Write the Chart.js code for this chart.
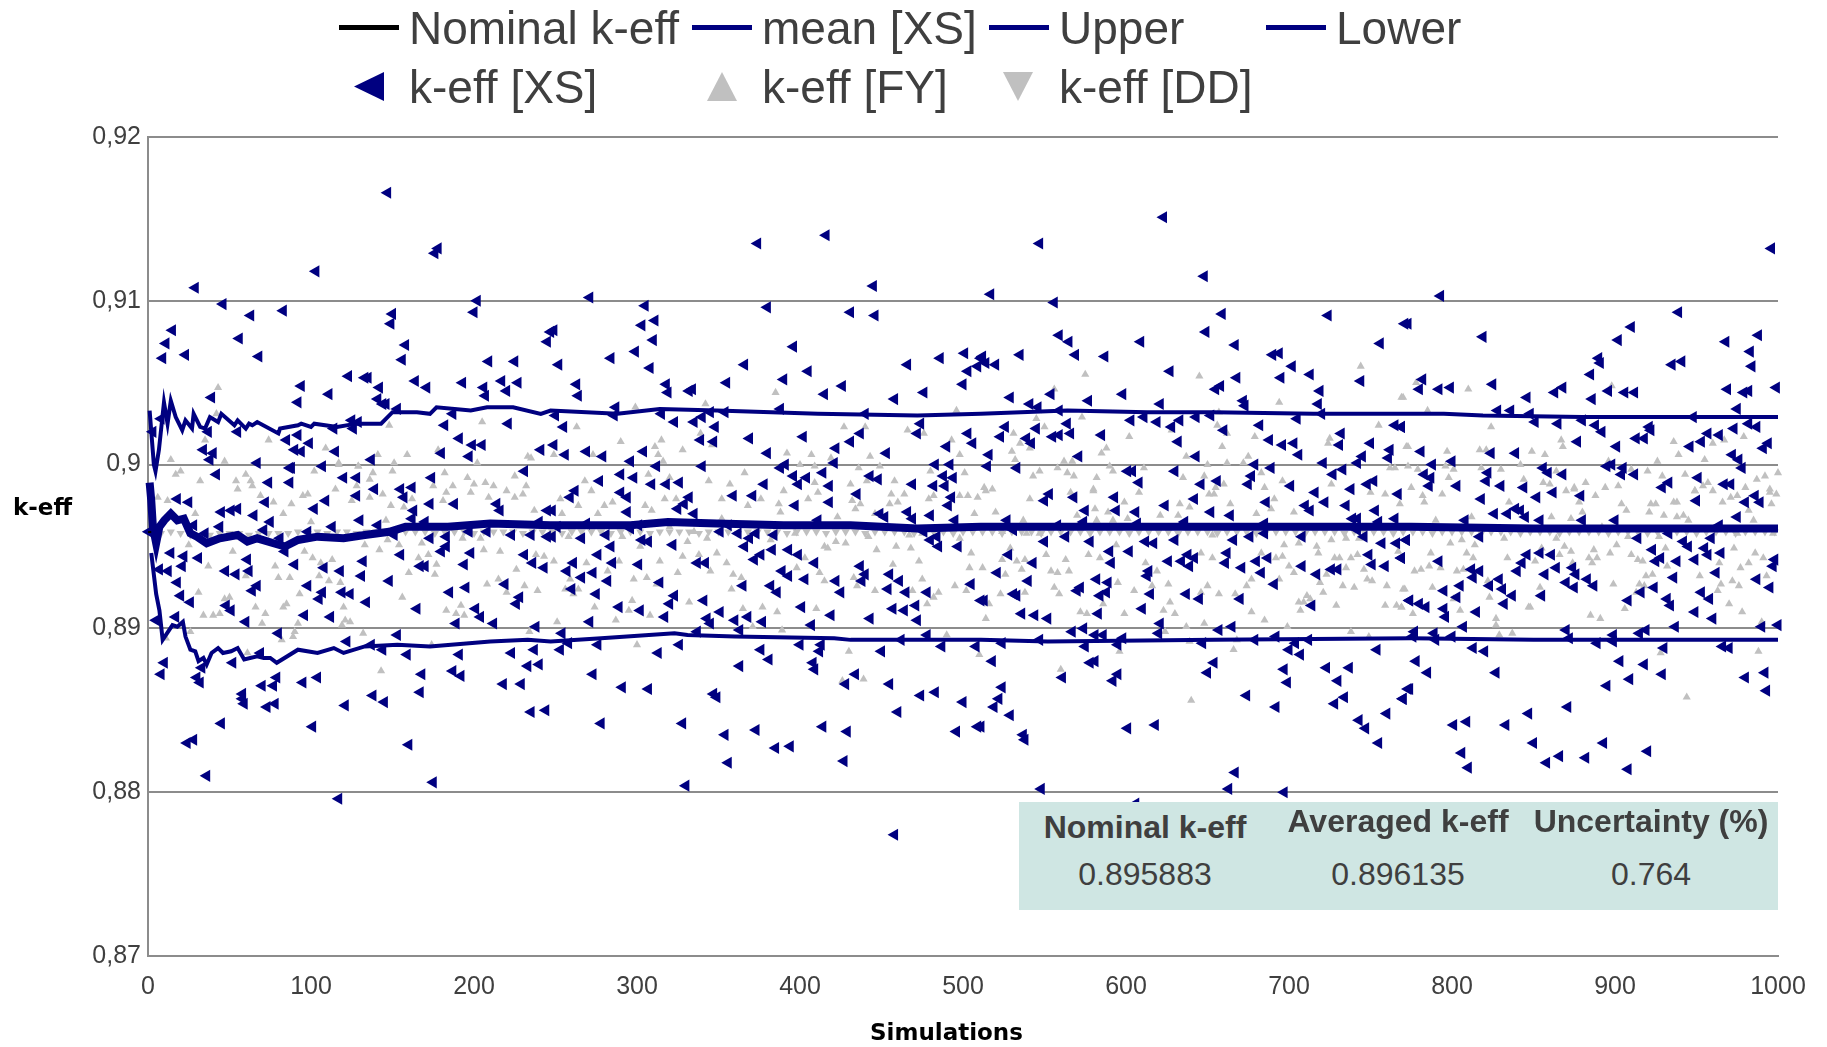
<!DOCTYPE html>
<html>
<head>
<meta charset="utf-8">
<title>k-eff</title>
<script src="https://cdn.jsdelivr.net/npm/chart.js@4/dist/chart.umd.min.js"></script>
<style>
  body { margin: 0; background: #fff; overflow: hidden; font-family: "Liberation Sans", sans-serif; color: #3f3f3f; }
  #wrap { position: relative; width: 1827px; height: 1047px; }
  #wrap div { position: absolute; white-space: nowrap; }
  .lg { font-size: 46px; line-height: 54px; }
  .key { height: 5px; width: 60px; background: #000080; }
  .mk { width: 30px; height: 29px; }
  .title { font: bold 23px "DejaVu Sans"; color: #000; }
  #box { left: 1019px; top: 802px; width: 759px; height: 108px; background: #cfe6e3; }
  .cell { font-size: 32px; line-height: 40px; transform: translateX(-50%); }
  .cell.head { font-weight: bold; }
</style>
</head>
<body>
<div id="wrap">
  <canvas id="chart" width="1827" height="1047"></canvas>

  <div class="key" style="left:339px;top:25px;background:#000"></div>
  <div class="lg" style="left:409px;top:1px">Nominal k-eff</div>
  <div class="key" style="left:692px;top:25px"></div>
  <div class="lg" style="left:762px;top:1px">mean [XS]</div>
  <div class="key" style="left:989px;top:25px"></div>
  <div class="lg" style="left:1059px;top:1px">Upper</div>
  <div class="key" style="left:1266px;top:25px"></div>
  <div class="lg" style="left:1336px;top:1px">Lower</div>

  <div class="mk" style="left:354px;top:72px;background:#000080;clip-path:polygon(0 50%,100% 0,100% 100%)"></div>
  <div class="lg" style="left:409px;top:60px">k-eff [XS]</div>
  <div class="mk" style="left:707px;top:72px;background:#c0c0c0;clip-path:polygon(50% 0,100% 100%,0 100%)"></div>
  <div class="lg" style="left:762px;top:60px">k-eff [FY]</div>
  <div class="mk" style="left:1003px;top:72px;background:#c0c0c0;clip-path:polygon(0 0,100% 0,50% 100%)"></div>
  <div class="lg" style="left:1059px;top:60px">k-eff [DD]</div>

  <div class="title" style="left:13px;top:494px">k-eff</div>
  <div class="title" style="left:870px;top:1019px">Simulations</div>

  <div id="box"></div>
  <div class="cell head" style="left:1145px;top:807px">Nominal k-eff</div>
  <div class="cell head" style="left:1398px;top:801px">Averaged k-eff</div>
  <div class="cell head" style="left:1651px;top:801px">Uncertainty (%)</div>
  <div class="cell" style="left:1145px;top:854px">0.895883</div>
  <div class="cell" style="left:1398px;top:854px">0.896135</div>
  <div class="cell" style="left:1651px;top:854px">0.764</div>
</div>

<script>
/* ====== Data (simulation, k-eff) ====== */
const xTickLabels = ["0","100","200","300","400","500","600","700","800","900","1000"];
const yTickLabels = ["0,87","0,88","0,89","0,9","0,91","0,92"];

const nominalLine = [[0,.895883],[2,.895883]];

const meanLine = [[1,.8989],[2,.8978],[3,.8962],[5,.8952],[7,.8962],[10,.8966],[14,.8970],[18,.8966],[22,.8967],[26,.8958],[30,.8956],[36,.8952],[44,.8955],[55,.8957],[61,.8953],[67,.8955],[77,.8952],[84,.8950],[92,.8954],[104,.8956],[120,.8955],[133,.8957],[148,.8959],[158,.8962],[184,.8962],[210,.8964],[247,.8963],[267,.8963],[296,.8963],[319,.8965],[349,.8964],[390,.8963],[431,.8963],[472,.8961],[511,.8962],[560,.8962],[634,.8962],[700,.8962],[775,.8962],[850,.8961],[930,.8961],[1000,.8961]];

const upperLine = [[1,.9033],[3.6,.9000],[4.6,.8996],[6.7,.9009],[9.8,.9038],[12,.9025],[14,.9039],[17,.9029],[21,.9021],[23,.9027],[27,.9022],[28,.9031],[32,.9023],[35,.9022],[38,.9029],[43,.9026],[45,.9031],[53,.9024],[55,.9027],[60,.9022],[62,.9025],[64,.9024],[67,.9026],[80,.9019],[81,.9022],[92,.9024],[94,.9025],[100,.9023],[102,.9025],[116,.9023],[128,.9025],[143,.9025],[150,.9032],[165,.9032],[173,.9031],[177,.9035],[198,.9033],[208,.9035],[224,.9035],[241,.9031],[247,.9033],[288,.9031],[314,.9034],[349,.9033],[411,.9031],[472,.9030],[511,.9031],[564,.9033],[613,.9032],[654,.9032],[715,.9031],[775,.9031],[795,.9031],[819,.9030],[880,.9029],[948,.9029],[972,.9029],[1000,.9029]];

const lowerLine = [[2,.8946],[5,.8921],[7,.8911],[9,.8893],[15,.8902],[18,.8901],[21.4,.8904],[23,.8895],[26,.8887],[29,.8886],[31,.8880],[34,.8882],[36,.8878],[39,.8885],[43,.8888],[46,.8885],[51,.8886],[55,.8888],[59,.8881],[67,.8883],[71,.8882],[75,.8882],[79,.8879],[92,.8887],[104,.8885],[114,.8888],[120,.8885],[133,.8889],[153,.8890],[173,.8889],[210,.8892],[233,.8893],[247,.8892],[278,.8894],[323,.8897],[331,.8896],[360,.8895],[421,.8894],[431,.8893],[472,.8893],[511,.8893],[552,.8892],[654,.8893],[775,.8894],[850,.8893],[1000,.8893]];

const xsPoints = [[147,.9166],[178,.9132],[176,.9129],[103,.9118],[29,.9108],[46,.9098],[63,.9091],[83,.9094],[15,.9082],[11,.9074],[9,.9065],[23,.9067],[56,.9077],[68,.9066],[150,.9092],[149,.9086],[158,.9073],[156,.9064],[202,.9100],[200,.9093],[209,.9063],[225,.9063],[245,.9075],[247,.9081],[94,.9048],[92,.9038],[111,.9043],[123,.9054],[133,.9053],[135,.9053],[142,.9047],[141,.9040],[146,.9037],[144,.9037],[153,.9034],[164,.9051],[171,.9047],[193,.9050],[206,.9047],[207,.9042],[217,.9051],[227,.9050],[220,.9045],[39,.9041],[187,.9031],[182,.9024],[221,.9025],[191,.9016],[199,.9012],[205,.9012],[197,.9005],[180,.9007],[241,.9009],[3,.9020],[8,.9028],[37,.9020],[55,.9020],[85,.9015],[92,.9018],[99,.9013],[90,.9009],[94,.9008],[115,.9008],[114,.9022],[125,.9027],[129,.9026],[126,.9022],[34,.9009],[40,.9007],[38,.9003],[67,.9001],[137,.9003],[107,.8999],[87,.8998],
[88,.8998],[42,.8994],[120,.8992],[128,.8992],[174,.8992],[231,.8996],[74,.8989],[87,.8989],[18,.8979],[25,.8977],[72,.8977],[128,.8981],[139,.8985],[155,.8985],[162,.8986],[157,.8980],[173,.8976],[188,.8976],[214,.8976],[216,.8972],[109,.8978],[102,.8973],[45,.8971],[51,.8972],[55,.8973],[65,.8969],[75,.8965],[71,.8960],[130,.8966],[141,.8963],[163,.8972],[162,.8967],[170,.8965],[113,.8962],[28,.8963],[44,.8962],[35,.8958],[.5,.8959],[98,.8959],[81,.8955],[84,.8947],[151,.8957],[197,.8959],[208,.8959],[223,.8957],[235,.8957],[240,.8965],[245,.8972],[245,.8956],[173,.8955],[183,.8956],[14,.8946],[22,.8944],[31,.8943],[61,.8942],[90,.8939],[132,.8941],[155,.8945],[180,.8947],[183,.8950],[198,.8946],[231,.8945],[236,.8940],[243,.8937],[7,.8936],[12.4,.8935],[21,.8938],[47.6,.8935],[54,.8933],[62,.8935],[108,.8937],[118,.8935],[131,.8932],[167,.8938],[170,.8938],[194,.8939],[18,.8928],[148,.8929],[98,.8926],[67,.8926],[64,.8923],[107,.8922],[105,.8918],[119,.8922],[124,.8921],[134,.8916],[219,.8927],[185,.8922],[195,.8925],[228,.8919],[226,.8915],[20,.8920],[26,.8916],[48,.8914],[51,.8911],[165,.8912],[201,.8912],[204,.8907],[212,.8903],[96,.8908],[112,.8907],[17,.8907],[5,.8905],[60,.8904],[189,.8903],[238,.8901],[80,.8897],[122,.8892],[153,.8896],[137,.8890],[144,.8887],[159,.8884],[191,.8884],[223,.8885],[237,.8887],[69,.8885],[10,.8879],[8,.8872],[52,.8879],[33,.8876],[30,.8870],[32,.8867],[79,.8870],[104,.8870],[95,.8867],[70,.8865],[77,.8865],[168,.8872],[187,.8874],[192,.8871],[233,.8877],[240,.8878],[218,.8866],[229,.8866],[167,.8861],[138,.8859],[145,.8855],[121,.8853],[58,.8860],[58,.8857],[59,.8854],[73,.8852],[78,.8854],[235,.8849],[244,.8850],[45,.8842],[101,.8840],[160,.8829],[24,.8830],[28,.8832],[36,.8810],[175,.8806],[117,.8796],
[374,.9135],[416,.9140],[445,.9109],[271,.9102],[305,.9097],[380,.9096],[431,.9093],[446,.9091],[311,.9088],[303,.9085],[249,.9082],[310,.9076],[396,.9072],[284,.9065],[299,.9069],[252,.9061],[308,.9059],[366,.9061],[466,.9061],[486,.9065],[501,.9068],[511,.9065],[503,.9057],[509,.9060],[405,.9057],[390,.9052],[355,.9050],[263,.9049],[264,.9042],[318,.9049],[319,.9044],[332,.9045],[334,.9046],[426,.9048],[415,.9043],[500,.9049],[476,.9044],[458,.9040],[287,.9035],[388,.9034],[286,.9030],[250,.9030],[315,.9031],[345,.9032],[354,.9032],[440,.9031],[474,.9025],[255,.9023],[323,.9026],[340,.9029],[335,.9026],[348,.9023],[472,.9019],[437,.9019],[431,.9014],[422,.9010],[369,.9016],[402,.9017],[339,.9015],[347,.9014],[503,.9019],[506,.9013],[490,.9011],[249,.9012],[256,.9006],[269,.9008],[279,.9005],[304,.9008],[380,.9007],[453,.9007],[483,.9000],[492,.9000],[421,.9001],[340,.8999],[296,.9002],[312,.8999],[391,.9000],[388,.8998],[290,.8994],[298,.8992],[396,.8993],[404,.8992],[414,.8995],[443,.8993],[448,.8991],[277,.8990],[309,.8988],[318,.8988],[326,.8989],[378,.8988],[399,.8988],[418,.8987],[469,.8988],[482,.8987],[488,.8993],[494,.8992],[489,.8987],
[262,.8984],[259,.8980],[290,.8983],[294,.8980],[359,.8981],[371,.8981],[332,.8980],[329,.8976],[325,.8973],[294,.8971],[335,.8970],[397,.8975],[418,.8977],[435,.8982],[493,.8980],[491,.8975],[480,.8969],[449,.8970],[452,.8968],[466,.8971],[469,.8967],[495,.8966],[411,.8966],[248,.8972],[269,.8964],[301,.8963],[351,.8959],[356,.8963],[362,.8958],[296,.8961],[251,.8962],[281,.8957],[248,.8956],[266,.8955],[303,.8954],[307,.8953],[284,.8950],[322,.8951],[369,.8955],[373,.8958],[384,.8957],[366,.8950],[383,.8948],[393,.8948],[399,.8945],[376,.8945],[372,.8942],[409,.8940],[276,.8945],[261,.8940],[285,.8940],[301,.8939],[337,.8940],[342,.8940],[257,.8935],[273,.8934],[266,.8931],[282,.8929],[314,.8928],[389,.8935],[393,.8932],[403,.8930],[365,.8926],[382,.8926],[386,.8922],[422,.8929],[260,.8924],[275,.8921],[323,.8920],[320,.8915],[341,.8917],[289,.8913],[302,.8911],[401,.8913],[317,.8907],[351,.8910],[343,.8906],[345,.8903],[360,.8905],[368,.8907],[377,.8904],[419,.8908],[443,.8906],[271,.8904],[407,.8902],[254,.8897],[337,.8898],[363,.8899],[258,.8891],[253,.8887],[276,.8890],[326,.8890],[313,.8885],[376,.8887],[400,.8890],[413,.8890],[412,.8886],[381,.8881],[408,.8879],[409,.8875],[363,.8877],[273,.8872],[434,.8872],[428,.8866],[455,.8866],[291,.8864],[307,.8863],[347,.8860],[349,.8858],[474,.8859],[483,.8861],[500,.8855],[460,.8849],[278,.8842],[328,.8842],[354,.8835],[373,.8838],[414,.8840],[429,.8837],[496,.8837],[509,.8840],[385,.8827],[394,.8828],[356,.8818],[427,.8819],[330,.8804],[458,.8774],[450,.8886],[487,.8889],[508,.8889],[462,.8893],[478,.8896],[437,.8938],[440,.8933],[438,.8929],[455,.8933],[461,.8929],[454,.8924],[465,.8922],[478,.8922],[505,.8927],[425,.8922],[457,.8912],[464,.8911],[471,.8914],[472,.8905],[511,.8917],[480,.8954],[485,.8950],[497,.8950],[476,.8959],[484,.8956],
[623,.9151],[547,.9135],[648,.9115],[517,.9104],[556,.9099],[659,.9092],[724,.9091],[773,.9086],[649,.9081],[559,.9079],[565,.9075],[609,.9075],[667,.9073],[756,.9074],[535,.9067],[569,.9067],[587,.9066],[690,.9067],[694,.9068],[512,.9066],[514,.9062],[520,.9061],[627,.9057],[702,.9060],[713,.9055],[668,.9053],[695,.9053],[744,.9051],[658,.9048],[655,.9046],[719,.9045],[598,.9043],[554,.9043],[529,.9041],[577,.9039],[541,.9037],[546,.9035],[621,.9037],[672,.9039],[673,.9036],[718,.9037],[559,.9033],[611,.9029],[652,.9030],[720,.9031],[603,.9027],[619,.9026],[633,.9027],[643,.9029],[705,.9028],[564,.9025],[526,.9023],[545,.9022],[682,.9024],[628,.9023],[660,.9021],[765,.9024],[769,.9023],[732,.9019],[523,.9017],[559,.9018],[555,.9017],[566,.9019],[585,.9018],[539,.9016],[542,.9013],[632,.9014],[688,.9015],[696,.9012],[703,.9013],[731,.9012],[750,.9013],[516,.9006],[571,.9005],[643,.9005],[706,.9006],[762,.9009],[745,.9005],[761,.9004],[515,.8999],[533,.8998],[679,.9000],[689,.8998],[721,.9001],[742,.9001],[601,.8996],[604,.8996],[630,.8996],[727,.8994],[733,.8997],[677,.8993],[608,.8989],[656,.8990],[646,.8988],[675,.8988],[701,.8987],[748,.8988],[752,.8990],
[553,.8982],[550,.8978],[568,.8980],[593,.8980],[575,.8972],[594,.8972],[606,.8971],[624,.8975],[642,.8979],[652,.8971],[664,.8969],[686,.8977],[710,.8975],[713,.8972],[722,.8977],[716,.8983],[738,.8985],[735,.8975],[767,.8982],[753,.8972],[527,.8966],[531,.8960],[558,.8963],[574,.8965],[607,.8964],[636,.8965],[685,.8964],[739,.8967],[742,.8967],[755,.8965],[765,.8967],[550,.8953],[563,.8956],[578,.8953],[612,.8953],[617,.8952],[630,.8954],[666,.8954],[676,.8956],[685,.8958],[708,.8956],[746,.8956],[742,.8960],[757,.8952],[766,.8952],[772,.8954],[528,.8945],[590,.8947],[602,.8947],[662,.8946],[543,.8940],[591,.8940],[626,.8941],[634,.8941],[638,.8945],[642,.8943],[639,.8938],[661,.8940],[680,.8941],[687,.8943],[671,.8937],[708,.8938],[749,.8945],[751,.8939],[759,.8938],[769,.8943],[726,.8936],[730,.8936],[717,.8933],[521,.8934],[683,.8934],[614,.8935],[613,.8932],[540,.8929],[582,.8930],[589,.8928],[691,.8927],[572,.8925],[570,.8923],[588,.8922],[584,.8920],[615,.8921],[637,.8921],[645,.8918],[670,.8918],[531,.8921],[533,.8920],[513,.8917],[714,.8914],[774,.8917],[610,.8912],[536,.8909],[544,.8908],[552,.8906],[583,.8909],[621,.8903],[567,.8898],[574,.8900],[657,.8899],[665,.8901],[581,.8896],[586,.8896],[598,.8894],[620,.8897],[692,.8895],[712,.8893],[679,.8893],[547,.8893],[524,.8891],[595,.8890],[647,.8891],[704,.8891],[575,.8889],[700,.8887],[707,.8884],[754,.8887],[518,.8880],[581,.8880],[578,.8879],[654,.8879],[650,.8873],[697,.8875],[723,.8876],[737,.8876],[561,.8870],[595,.8872],[592,.8868],[699,.8867],[730,.8868],[524,.8864],[522,.8857],[519,.8852],[734,.8858],[728,.8854],[770,.8857],[774,.8863],[674,.8859],[692,.8852],[529,.8847],[760,.8848],[743,.8844],[747,.8839],[511,.8840],[601,.8839],[618,.8841],[537,.8835],[538,.8832],[755,.8830],[667,.8812],[663,.8802],[548,.8802],[697,.8800],[606,.8793],
[996,.9132],[793,.9103],[939,.9093],[771,.9086],[819,.9078],[910,.9084],[902,.9076],[968,.9075],[988,.9079],[983,.9069],[984,.9060],[890,.9065],[891,.9062],[935,.9061],[941,.9063],[885,.9055],[782,.9052],[780,.9046],[792,.9046],[799,.9047],[825,.9049],[863,.9044],[868,.9047],[886,.9040],[896,.9045],[906,.9044],[912,.9044],[969,.9046],[979,.9044],[982,.9045],[999,.9047],[846,.9041],[828,.9033],[836,.9033],[848,.9031],[975,.9034],[948,.9029],[769,.9023],[851,.9026],[865,.9025],[880,.9027],[888,.9024],[892,.9020],[921,.9023],[922,.9021],[973,.9022],[982,.9025],[987,.9023],[957,.9019],[964,.9018],[877,.9014],[913,.9016],[918,.9016],[953,.9014],[946,.9011],[901,.9011],[994,.9013],[991,.9010],[781,.9008],[824,.9007],[839,.9007],[972,.9006],[800,.9002],[788,.9000],[856,.8998],[859,.8995],[868,.8994],[783,.8994],[787,.8992],[822,.8995],[821,.8990],[895,.8999],[898,.9000],[905,.8998],[904,.8994],[912,.8994],[976,.9003],[978,.8998],[951,.8992],[933,.8989],[929,.8986],[967,.8988],[971,.8988],[786,.8987],[803,.8987],[830,.8987],[844,.8986],
[818,.8979],[852,.8980],[862,.8983],[879,.8981],[950,.8978],[980,.8977],[989,.8977],[986,.8981],[975,.8968],[826,.8970],[834,.8970],[839,.8973],[842,.8972],[845,.8968],[808,.8966],[854,.8966],[880,.8966],[900,.8966],[964,.8963],[817,.8956],[914,.8955],[933,.8958],[959,.8955],[772,.8954],[942,.8953],[945,.8950],[955,.8949],[923,.8948],[846,.8945],[854,.8946],[861,.8945],[965,.8946],[792,.8941],[928,.8943],[925,.8941],[938,.8941],[949,.8942],[957,.8945],[998,.8942],[997,.8938],[769,.8943],[843,.8940],[864,.8937],[874,.8937],[812,.8936],[817,.8935],[840,.8935],[857,.8933],[813,.8931],[876,.8933],[883,.8930],[936,.8931],[962,.8934],[829,.8930],[870,.8928],[875,.8925],[887,.8926],[987,.8930],[995,.8925],[805,.8926],[823,.8926],[831,.8924],[795,.8923],[924,.8925],[953,.8922],[855,.8920],[803,.8919],[837,.8920],[916,.8922],[908,.8917],[958,.8918],[774,.8917],[780,.8915],[784,.8913],[832,.8915],[932,.8918],[934,.8914],[795,.8912],[796,.8907],[815,.8910],[949,.8910],[960,.8906],[807,.8901],[937,.8901],[990,.8901],[1000,.8902],[777,.8898],[789,.8897],[870,.8899],[899,.8896],[919,.8899],[915,.8897],[800,.8895],[776,.8895],[790,.8893],[872,.8894],[889,.8891],[899,.8892],[813,.8888],[820,.8886],[930,.8888],[966,.8889],[970,.8888],[778,.8880],[903,.8880],[918,.8878],[785,.8873],[827,.8873],[929,.8872],[909,.8869],[980,.8870],[992,.8873],[895,.8865],[993,.8862],[773,.8863],[770,.8857],[871,.8852],[847,.8848],[809,.8843],[801,.8841],[833,.8841],[850,.8830],[893,.8830],[920,.8825],[806,.8824],[866,.8822],[858,.8818],[882,.8821],[810,.8815],[908,.8814]];

const fyPoints = [[43,.9047],[42,.9031],[35,.9015],[14,.9003],[47,.9002],[74,.9015],[109,.9010],[117,.9001],[129,.8999],[151,.9001],[148,.9024],[159,.9006],[178,.9009],[205,.9026],[202,.9001],[233,.9005],[141,.9006],[235,.9004],
[17,.8994],[20,.8996],[32,.8990],[6,.8980],[12,.8978],[29,.8970],[54,.8990],[60,.8994],[63,.8990],[55,.8985],[64,.8987],[69,.8981],[77,.8977],[88,.8976],[83,.8970],[100,.8965],[95,.8981],[98,.8982],[102,.8996],[117,.9000],[129,.8999],[138,.8995],[150,.8996],[136,.8991],[128,.8987],[115,.8985],[125,.8978],[136,.8980],[144,.8982],[149,.8975],[162,.8979],[157,.8974],[146,.8966],[182,.8995],[175,.8987],[183,.8983],[187,.8987],[181,.8978],[196,.8992],[200,.8988],[207,.8989],[212,.8987],[198,.8983],[209,.8980],[220,.8984],[225,.8980],[225,.8993],[232,.8987],[230,.8982],[237,.8972],[52,.8947],[25,.8951],[37,.8938],[78,.8938],[96,.8947],[101,.8943],[106,.8940],[113,.8942],[133,.8951],[142,.8948],[147,.8954],[154,.8951],[168,.8952],[166,.8943],[172,.8945],[177,.8939],[193,.8955],[204,.8955],[206,.8948],[216,.8947],[160,.8934],[176,.8933],[226,.8936],[238,.8945],[243,.8944],[60,.8932],[80,.8931],[87,.8931],[105,.8932],[111,.8929],[118,.8928],[215,.8930],[231,.8926],[208,.8927],[31,.8922],[93,.8921],[156,.8919],[220,.8922],[239,.8923],[47,.8918],[50,.8919],[66,.8913],[85,.8915],[83,.8913],[120,.8913],[192,.8914],[183,.8911],[189,.8909],[194,.8908],[72,.8909],[34,.8908],[40,.8908],[44,.8909],[121,.8905],[124,.8904],[70,.8903],[92,.8903],[119,.8902],[90,.8898],[26,.8898],[11,.8894],[82,.8893],[89,.8895],[132,.8897],[234,.8898],[61,.8885],[143,.8874],[174,.8890],
[299,.9035],[342,.9037],[385,.9044],[427,.9023],[440,.9023],[496,.9033],[466,.9021],[476,.9019],[263,.9023],[290,.9014],[315,.9015],[311,.9011],[313,.9006],[328,.9009],[346,.9012],[339,.9019],[249,.9006],[273,.9006],[316,.9002],[392,.9007],[407,.9006],[419,.9004],[443,.9005],[493,.9015],[498,.9006],[400,.9000],[409,.8999],[436,.8998],[449,.8999],[366,.8995],[307,.8994],[320,.8992],[480,.8996],[501,.8995],[268,.8990],[344,.8990],[357,.8988],[409,.8989],[431,.8988],[441,.8990],[458,.8990],
[272,.8984],[253,.8979],[264,.8975],[254,.8970],[276,.8970],[280,.8975],[285,.8977],[305,.8975],[309,.8972],[317,.8979],[324,.8979],[352,.8979],[368,.8975],[376,.8979],[387,.8976],[388,.8971],[390,.8984],[405,.8979],[411,.8983],[423,.8968],[434,.8973],[432,.8978],[437,.8976],[456,.8982],[460,.8977],[455,.8976],[464,.8982],[479,.8979],[482,.8981],[498,.8981],[503,.8981],[509,.8980],[507,.8970],[446,.8970],[352,.8967],[258,.8956],[291,.8956],[302,.8950],[331,.8953],[335,.8959],[343,.8955],[320,.8962],[442,.8956],[467,.8957],[475,.8958],[498,.8955],[397,.8958],[382,.8954],[428,.8952],[422,.8953],[415,.8950],[417,.8949],[447,.8948],[459,.8950],[468,.8949],[505,.8946],[249,.8941],[269,.8940],[289,.8941],[314,.8941],[328,.8944],[338,.8945],[349,.8946],[355,.8940],[403,.8943],[398,.8937],[412,.8934],[473,.8941],[457,.8939],[504,.8937],[282,.8935],[325,.8934],[345,.8935],[359,.8933],[259,.8930],[298,.8930],[306,.8931],[364,.8931],[415,.8929],[433,.8931],[475,.8930],[435,.8926],[256,.8924],[264,.8924],[261,.8921],[312,.8927],[358,.8924],[446,.8923],[469,.8923],[495,.8926],[502,.8923],[485,.8922],[482,.8919],[297,.8917],[332,.8916],[274,.8913],[295,.8911],[308,.8908],[365,.8912],[377,.8913],[386,.8910],[410,.8912],[478,.8915],[251,.8904],[287,.8905],[371,.8901],[389,.8899],[490,.8896],[300,.8890],[430,.8886],[510,.8884],[426,.8868],[439,.8869],
[575,.9055],[645,.9054],[744,.9060],[556,.9046],[694,.9038],[770,.9041],[657,.9032],[545,.9028],[573,.9029],[550,.9023],[531,.9019],[656,.9024],[662,.9019],[602,.9017],[628,.9021],[679,.9017],[755,.9024],[725,.9016],[724,.9013],[535,.9013],[541,.9010],[588,.9010],[585,.9007],[659,.9011],[530,.9008],[532,.9003],[637,.9005],[675,.9005],[773,.9011],[562,.9002],[567,.9002],[650,.9000],[662,.9001],[672,.9001],[590,.8999],[611,.8998],[762,.8998],[765,.8998],[558,.8998],[592,.8996],[547,.8996],[543,.8993],[564,.8995],[568,.8993],[582,.8992],[683,.8995],[635,.8992],[648,.8993],[696,.8990],[660,.8988],[726,.8988],[580,.8985],[685,.8986],[655,.8986],[518,.8985],[513,.8986],
[514,.8984],[541,.8979],[566,.8983],[580,.8984],[608,.8983],[599,.8977],[581,.8973],[589,.8971],[570,.8969],[520,.8971],[601,.8967],[621,.8969],[633,.8976],[632,.8969],[639,.8974],[654,.8982],[651,.8982],[664,.8976],[680,.8970],[689,.8973],[691,.8979],[703,.8971],[768,.8976],[750,.8983],[759,.8982],[537,.8966],[582,.8966],[592,.8966],[524,.8959],[539,.8958],[547,.8958],[653,.8957],[726,.8954],[735,.8955],[743,.8955],[529,.8949],[551,.8945],[577,.8945],[584,.8943],[594,.8951],[563,.8942],[538,.8942],[524,.8942],[533,.8941],[646,.8946],[653,.8943],[697,.8951],[706,.8952],[717,.8950],[718,.8946],[683,.8946],[696,.8944],[692,.8943],[728,.8943],[731,.8943],[738,.8943],[742,.8945],[735,.8937],[746,.8936],[767,.8947],[512,.8937],[536,.8936],[554,.8935],[558,.8934],[565,.8935],[612,.8940],[619,.8935],[526,.8933],[700,.8938],[703,.8934],[723,.8933],[719,.8928],[677,.8930],[694,.8930],[748,.8930],[751,.8929],[595,.8928],[616,.8926],[626,.8927],[650,.8926],[674,.8926],[733,.8926],[740,.8925],[760,.8926],[771,.8924],[556,.8925],[559,.8921],[605,.8923],[523,.8921],[538,.8922],[646,.8922],[657,.8921],[667,.8921],[721,.8922],[711,.8920],[706,.8916],[709,.8916],[713,.8918],[586,.8915],[627,.8916],[729,.8914],[759,.8914],[766,.8914],[769,.8913],[516,.8915],[623,.8911],[707,.8911],[572,.8910],[576,.8909],[599,.8909],[630,.8909],[677,.8910],[685,.8905],[514,.8906],[637,.8901],[648,.8903],[699,.8901],[738,.8898],[624,.8898],[749,.8895],[639,.8892],[668,.8893],[666,.8887],[596,.8886],[560,.8875],[640,.8856],
[778,.9050],[810,.9046],[769,.9041],[898,.9048],[785,.9033],[824,.9023],[867,.9015],[868,.9011],[936,.9014],[979,.9017],[960,.9013],[967,.9015],[939,.9006],[955,.9003],[772,.9011],[797,.9008],[817,.9009],[821,.9009],[849,.9008],[857,.9006],[842,.9000],[896,.9002],[926,.9002],[920,.8996],[773,.8999],[779,.8997],[796,.8999],[818,.8998],[830,.8997],[801,.8997],[864,.8996],[910,.8997],[943,.8994],[1000,.8995],[992,.8993],[987,.8991],[798,.8992],[929,.8993],[844,.8991],[856,.8989],[860,.8988],[882,.8989],[957,.8989],[775,.8986],[875,.8986],[894,.8986],[902,.8987],[954,.8987],[949,.8984],[980,.8986],[995,.8985],
[782,.8981],[783,.8977],[794,.8982],[835,.8977],[870,.8984],[875,.8985],[888,.8981],[878,.8977],[904,.8976],[907,.8972],[921,.8971],[922,.8976],[925,.8976],[936,.8977],[938,.8977],[949,.8984],[960,.8984],[966,.8977],[971,.8980],[975,.8981],[995,.8983],[999,.8982],[996,.8976],[982,.8972],[985,.8966],[880,.8971],[930,.8969],[938,.8968],[942,.8969],[945,.8966],[790,.8966],[861,.8968],[873,.8967],[812,.8968],[892,.8962],[908,.8956],[927,.8956],[832,.8955],[864,.8955],[975,.8958],[997,.8958],[799,.8952],[806,.8954],[814,.8951],[869,.8950],[873,.8947],[901,.8951],[887,.8948],[897,.8946],[931,.8949],[973,.8949],[809,.8946],[787,.8946],[834,.8943],[813,.8943],[851,.8941],[855,.8949],[866,.8945],[884,.8943],[889,.8943],[886,.8940],[910,.8945],[914,.8942],[917,.8941],[986,.8946],[991,.8943],[982,.8940],[964,.8940],[932,.8938],[786,.8938],[793,.8937],[777,.8935],[781,.8936],[803,.8935],[807,.8936],[874,.8940],[977,.8937],[919,.8932],[923,.8933],[952,.8932],[993,.8932],[822,.8929],[899,.8927],[915,.8927],[918,.8926],[972,.8929],[976,.8926],[965,.8927],[770,.8924],[788,.8925],[854,.8925],[913,.8922],[963,.8923],[823,.8919],[801,.8918],[970,.8915],[769,.8913],[805,.8911],[847,.8913],[848,.8913],[906,.8912],[776,.8909],[885,.8908],[891,.8906],[978,.8910],[827,.8906],[827,.8902],[990,.8904],[829,.8896],[837,.8897],[988,.8886],[928,.8885],[944,.8858]];

const ddPoints = [[2,.8959],[8,.8958],[14,.8959],[20,.8958],[26,.8957],[32,.8956],[38,.8957],[44,.8958],[50,.8958],[56,.8958],[62,.8957],[68,.8958],[74,.8958],[80,.8958],[86,.8958],[92,.8959],[98,.8958],[104,.8959],[110,.8958],[116,.8959],[122,.8959],[128,.8958],[134,.8959],[140,.8959],[146,.8959],[152,.8958],[158,.8959],[164,.8959],[170,.8959],[176,.8958],[182,.8959],[188,.8959],[194,.8959],[200,.8958],[206,.8959],[212,.8959],[218,.8959],[224,.8959],[230,.8958],[236,.8959],[242,.8959],[248,.8959],[254,.8958],[260,.8959],[266,.8959],[272,.8959],[278,.8959],[284,.8958],[290,.8959],[296,.8959],[302,.8959],[308,.8958],[314,.8959],[320,.8959],[326,.8959],[332,.8959],[338,.8958],[344,.8959],[350,.8959],[356,.8959],[362,.8958],[368,.8959],[374,.8959],[380,.8959],[386,.8959],[392,.8958],[398,.8959],[404,.8959],[410,.8959],[416,.8958],[422,.8959],[428,.8959],[434,.8959],[440,.8958],[446,.8959],[452,.8959],[458,.8959],[464,.8959],[470,.8958],[476,.8959],[482,.8959],[488,.8959],[494,.8958],[500,.8959],[506,.8959],[512,.8959],[518,.8959],[524,.8958],[530,.8959],[536,.8959],[542,.8959],[548,.8958],[554,.8959],[560,.8959],[566,.8959],[572,.8959],[578,.8958],[584,.8959],[590,.8959],[596,.8959],[602,.8958],[608,.8959],[614,.8959],[620,.8959],[626,.8959],[632,.8958],[638,.8959],[644,.8959],[650,.8959],[656,.8958],[662,.8959],[668,.8959],[674,.8959],[680,.8958],[686,.8959],[692,.8959],[698,.8959],[704,.8959],[710,.8958],[716,.8959],[722,.8959],[728,.8959],[734,.8958],[740,.8959],[746,.8959],[752,.8959],[758,.8959],[764,.8958],[770,.8959],[776,.8959],[782,.8959],[788,.8958],[794,.8959],[800,.8959],[806,.8959],[812,.8959],[818,.8958],[824,.8959],[830,.8959],[836,.8959],[842,.8958],[848,.8959],[854,.8959],[860,.8959],[866,.8958],[872,.8959],[878,.8959],[884,.8959],[890,.8959],[896,.8958],[902,.8959],[908,.8959],[914,.8959],[920,.8958],[926,.8959],[932,.8959],[938,.8959],[944,.8959],[950,.8958],[956,.8959],[962,.8959],[968,.8959],[974,.8958],[980,.8959],[986,.8959],[992,.8959],[998,.8959]];

const toXY = (pts) => pts.map(([x, y]) => ({ x, y }));
const NAVY = "#000080";
const GREY = "#c0c0c0";
const AXIS = "#8c8c8c";

/* ====== Chart (first dataset is painted last) ====== */
function lineSet(label, pts, color, width) {
  return { label, data: toXY(pts), showLine: true, borderColor: color, backgroundColor: color,
           borderWidth: width, pointRadius: 0, tension: 0, clip: false };
}
function markerSet(label, pts, color, radius, rotation) {
  return { label, data: toXY(pts), showLine: false, backgroundColor: color, borderColor: color,
           pointStyle: "triangle", pointRadius: radius, pointRotation: rotation, pointBorderWidth: 0, clip: false };
}

new Chart(document.getElementById("chart"), {
  type: "scatter",
  data: {
    datasets: [
      lineSet("Nominal k-eff", nominalLine, "#000", 2),
      lineSet("mean [XS]", meanLine, NAVY, 8),
      lineSet("Upper", upperLine, NAVY, 4),
      lineSet("Lower", lowerLine, NAVY, 4),
      markerSet("k-eff [XS]", xsPoints, NAVY, 7, -90),
      markerSet("k-eff [FY]", fyPoints, GREY, 4.7, 0),
      markerSet("k-eff [DD]", ddPoints, GREY, 4.7, 180)
    ]
  },
  options: {
    responsive: false,
    animation: false,
    layout: { padding: { top: 137, right: 49, left: 0, bottom: 0 } },
    plugins: { legend: { display: false }, tooltip: { enabled: false } },
    scales: {
      x: {
        type: "linear", min: 0, max: 1000,
        afterFit: (s) => { s.height = 91; },
        grid: { display: false },
        border: { color: AXIS, width: 2 },
        ticks: { stepSize: 100, maxRotation: 0, padding: 8, color: "#3f3f3f",
                 font: { family: "Liberation Sans", size: 25 },
                 callback: (v, i) => xTickLabels[i] }
      },
      y: {
        type: "linear", min: 0.87, max: 0.92,
        afterFit: (s) => { s.width = 148; },
        grid: { color: AXIS, lineWidth: 2, drawTicks: false },
        border: { color: AXIS, width: 2 },
        ticks: { stepSize: 0.01, padding: 7, color: "#3f3f3f",
                 font: { family: "Liberation Sans", size: 25 },
                 callback: (v, i) => yTickLabels[i] }
      }
    }
  }
});
</script>
</body>
</html>
